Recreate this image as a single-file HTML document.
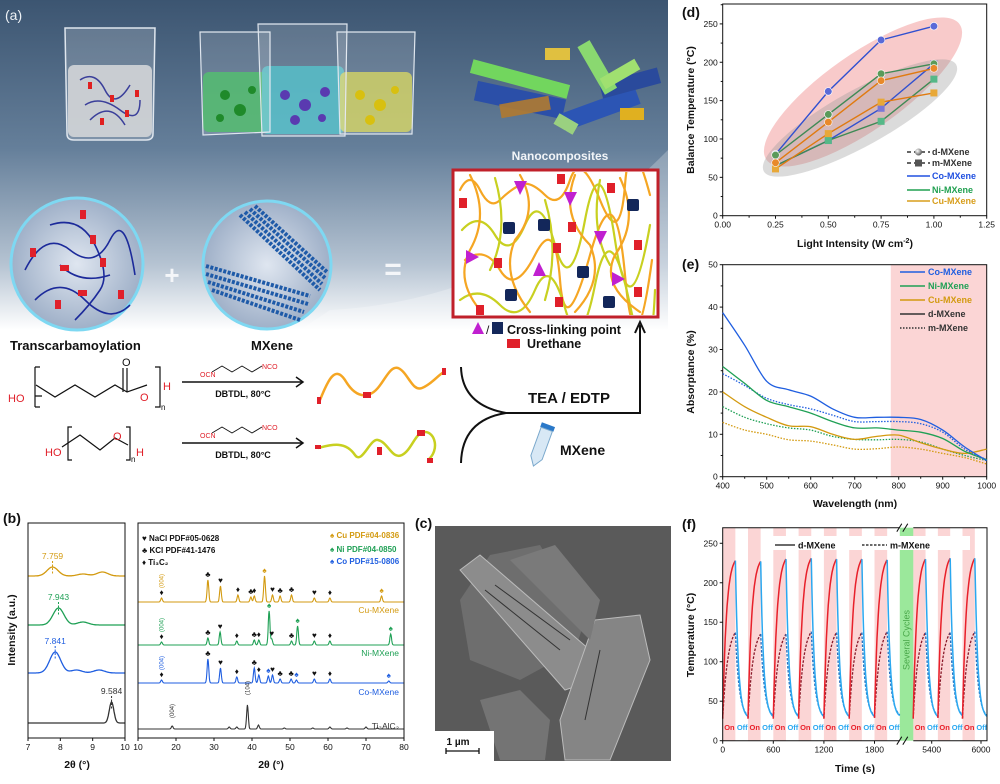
<!DOCTYPE html>
<html><head><meta charset="utf-8">
<style>
body{margin:0;width:1000px;height:779px;overflow:hidden;background:#fff}
svg text{font-family:"Liberation Sans",Arial,sans-serif}
</style></head>
<body>
<svg id="fig" width="1000" height="779" viewBox="0 0 1000 779" xmlns="http://www.w3.org/2000/svg">
<defs>
<linearGradient id="bgA" x1="0" y1="0" x2="0" y2="1">
<stop offset="0" stop-color="#3c5571"/><stop offset="0.45" stop-color="#657f9a"/><stop offset="0.8" stop-color="#b5c3d2"/><stop offset="1" stop-color="#ffffff"/>
</linearGradient>
<radialGradient id="circG" cx="0.5" cy="0.5" r="0.5"><stop offset="0" stop-color="#dfe6f0"/><stop offset="1" stop-color="#9fb0c8"/></radialGradient>
<radialGradient id="ballG" cx="0.35" cy="0.35" r="0.7"><stop offset="0" stop-color="#fff"/><stop offset="1" stop-color="#555"/></radialGradient>
<clipPath id="boxClip"><rect x="455" y="172" width="201" height="143"/></clipPath>
</defs>

<!-- PANEL A -->
<g>
<rect x="0" y="0" width="668" height="330" fill="url(#bgA)"/>
<path d="M330 310 Q520 300 668 150 L668 330 L300 330 Z" fill="#ffffff" opacity="0.25"/>
<text x="5" y="20" font-size="14" fill="#eef2f6">(a)</text>
<g>
<rect x="68" y="65" width="84" height="72" rx="6" fill="#c9cccf" opacity="0.9"/>
<path d="M65 28 L155 28 L153 134 Q153 140 146 140 L74 140 Q67 140 67 134 Z" fill="#ffffff" fill-opacity="0.18" stroke="#dfe6ee" stroke-width="1.5"/>
<path d="M80 80 Q95 70 105 90 T130 85 M85 105 Q100 95 120 110 T140 100 M90 120 Q110 100 125 125" stroke="#3a3f9a" stroke-width="1.5" fill="none"/>
<g fill="#e02020"><rect x="88" y="82" width="4" height="7"/><rect x="110" y="95" width="4" height="7"/><rect x="125" y="110" width="4" height="7"/><rect x="100" y="118" width="4" height="7"/><rect x="135" y="90" width="4" height="7"/></g>
</g>
<g>
<rect x="203" y="72" width="66" height="60" rx="6" fill="#36b157" opacity="0.85"/>
<rect x="262" y="66" width="82" height="68" rx="6" fill="#3ab4c0" opacity="0.85"/>
<rect x="340" y="72" width="72" height="60" rx="6" fill="#c8c84c" opacity="0.85"/>
<path d="M200 32 L270 32 L270 132 L203 135 Z" fill="#fff" fill-opacity="0.15" stroke="#dfe6ee" stroke-width="1.2"/>
<path d="M258 24 L347 24 L345 136 L262 136 Z" fill="#fff" fill-opacity="0.15" stroke="#dfe6ee" stroke-width="1.2"/>
<path d="M337 32 L415 32 L412 134 L340 134 Z" fill="#fff" fill-opacity="0.15" stroke="#dfe6ee" stroke-width="1.2"/>
<g fill="#1f8a2a"><circle cx="225" cy="95" r="5"/><circle cx="240" cy="110" r="6"/><circle cx="220" cy="118" r="4"/><circle cx="252" cy="90" r="4"/></g>
<g fill="#5a3ab0"><circle cx="285" cy="95" r="5"/><circle cx="305" cy="105" r="6"/><circle cx="325" cy="92" r="5"/><circle cx="295" cy="120" r="5"/><circle cx="322" cy="118" r="4"/></g>
<g fill="#d8c010"><circle cx="360" cy="95" r="5"/><circle cx="380" cy="105" r="6"/><circle cx="395" cy="90" r="4"/><circle cx="370" cy="120" r="5"/></g>
</g>
<g>
<rect x="475" y="90" width="90" height="20" fill="#2b4fa8" transform="rotate(12 520 100)"/>
<rect x="560" y="100" width="80" height="18" fill="#2c55b4" transform="rotate(-20 600 109)"/>
<rect x="600" y="75" width="60" height="16" fill="#2a4a9c" transform="rotate(-15 630 83)"/>
<rect x="470" y="72" width="100" height="14" fill="#72d65e" transform="rotate(15 520 79)"/>
<rect x="570" y="60" width="55" height="14" fill="#8ad870" transform="rotate(60 597 67)"/>
<rect x="600" y="68" width="40" height="12" fill="#a0e070" transform="rotate(-30 620 74)"/>
<rect x="500" y="100" width="50" height="14" fill="#b07a30" opacity="0.9" transform="rotate(-10 525 107)"/>
<rect x="620" y="108" width="24" height="12" fill="#e0b020"/>
<rect x="545" y="48" width="25" height="12" fill="#e0c040"/>
<rect x="555" y="118" width="22" height="12" fill="#9ad080" transform="rotate(30 566 124)"/>
</g>
<text x="560" y="160" font-size="12" font-weight="bold" fill="#f2f5f8" text-anchor="middle">Nanocomposites</text>
<g>
<circle cx="77" cy="264" r="66" fill="url(#circG)" stroke="#7ed8f2" stroke-width="3"/>
<path d="M25 270 Q45 230 70 250 T110 240 T135 275 M35 300 Q60 275 85 300 T130 305 M50 225 Q80 215 95 245 T100 290 T75 320 M60 265 Q80 285 110 275" stroke="#1c2a9a" stroke-width="1.6" fill="none"/>
<g fill="#e0202a"><rect x="80" y="210" width="6" height="9"/><rect x="30" y="248" width="6" height="9"/><rect x="60" y="265" width="9" height="6"/><rect x="100" y="258" width="6" height="9"/><rect x="78" y="290" width="9" height="6"/><rect x="55" y="300" width="6" height="9"/><rect x="118" y="290" width="6" height="9"/><rect x="90" y="235" width="6" height="9"/></g>
</g>
<g>
<circle cx="267" cy="265" r="64" fill="url(#circG)" stroke="#7ed8f2" stroke-width="3"/>
<path d="M240 215 L320 290 M245 212 L322 284 M250 209 L325 278 M255 206 L327 272 M212 290 L300 320 M208 282 L304 312 M206 274 L308 304 M206 266 L310 296" stroke="#1e5aa8" stroke-width="4" stroke-dasharray="3 1.5"/>
</g>
<text x="172" y="284" font-size="26" font-weight="bold" fill="#f4f6f9" text-anchor="middle">+</text>
<text x="393" y="279" font-size="30" font-weight="bold" fill="#f4f6f9" text-anchor="middle">=</text>
<g>
<rect x="453" y="170" width="205" height="147" fill="#fff" stroke="#c0202a" stroke-width="3"/>
<g fill="none" stroke-width="2.2" stroke-linecap="round" clip-path="url(#boxClip)">
<path d="M460 190 Q470 170 480 190 T500 200 T520 185 T545 195 T570 180 T600 200 T625 185 T650 195" stroke="#f5a623"/>
<path d="M462 230 Q480 210 495 235 T525 225 T555 245 T585 220 T615 240 T650 225" stroke="#c8d020"/>
<path d="M465 260 Q485 245 500 270 T535 255 T560 280 T590 255 T625 275 T652 260" stroke="#f5a623"/>
<path d="M460 300 Q480 285 500 305 T535 290 T565 308 T595 285 T630 305 T655 290" stroke="#c8d020"/>
<path d="M470 175 Q490 215 470 250 Q455 280 480 310 M520 175 Q540 210 515 240 Q500 275 530 312 M575 175 Q560 215 590 245 Q605 280 575 312 M620 178 Q640 220 615 255 Q600 285 640 312" stroke="#f5a623"/>
<path d="M495 178 Q510 230 490 270 M600 180 Q590 230 610 265 M545 200 Q560 250 545 300" stroke="#c8d020"/>
</g>
<g fill="#c020d0"><path d="M514 181 L527 181 L520 195 Z"/><path d="M564 192 L577 192 L570 206 Z"/><path d="M594 231 L607 231 L600 245 Z"/><path d="M466 250 L479 257 L466 264 Z"/><path d="M533 276 L546 276 L539 262 Z"/><path d="M612 272 L625 279 L612 286 Z"/></g>
<g fill="#13275a"><rect x="503" y="222" width="12" height="12" rx="2"/><rect x="538" y="219" width="12" height="12" rx="2"/><rect x="627" y="199" width="12" height="12" rx="2"/><rect x="577" y="266" width="12" height="12" rx="2"/><rect x="505" y="289" width="12" height="12" rx="2"/><rect x="603" y="296" width="12" height="12" rx="2"/></g>
<g fill="#e0202a"><rect x="459" y="198" width="8" height="10"/><rect x="557" y="174" width="8" height="10"/><rect x="607" y="183" width="8" height="10"/><rect x="568" y="222" width="8" height="10"/><rect x="553" y="243" width="8" height="10"/><rect x="494" y="258" width="8" height="10"/><rect x="634" y="240" width="8" height="10"/><rect x="555" y="297" width="8" height="10"/><rect x="634" y="287" width="8" height="10"/><rect x="476" y="305" width="8" height="10"/></g>
</g>
<g>
<path d="M472 334 L484 334 L478 322 Z" fill="#c020d0"/>
<text x="486" y="334" font-size="12" fill="#111">/</text>
<rect x="492" y="322" width="11" height="12" fill="#13275a"/>
<text x="507" y="334" font-size="12.5" font-weight="bold" fill="#111">Cross-linking point</text>
<rect x="507" y="339" width="13" height="9" fill="#e0202a"/>
<text x="527" y="348" font-size="12.5" font-weight="bold" fill="#111">Urethane</text>
</g>
<text x="10" y="350" font-size="13" font-weight="bold" fill="#111">Transcarbamoylation</text>
<text x="272" y="350" font-size="13" font-weight="bold" fill="#111" text-anchor="middle">MXene</text>
<g fill="none" stroke="#111" stroke-width="1.2">
<path d="M35 395 L35 367 M35 395 L35 407 M35 396 L42 396"/>
<path d="M36 385 L55 397 L75 385 L95 397 L115 385 L127 392 L147 385"/>
<path d="M127 392 L127 368 M123 392 L123 368"/>
<path d="M155 367 L160 367 L160 407 L155 407"/>
<path d="M35 367 L40 367 M35 407 L40 407"/>
</g>
<text x="8" y="402" font-size="11" fill="#e0202a">HO</text>
<text x="122" y="366" font-size="11" fill="#111">O</text>
<text x="140" y="401" font-size="11" fill="#e0202a">O</text>
<text x="163" y="390" font-size="11" fill="#e0202a">H</text>
<text x="161" y="410" font-size="8" fill="#111">n</text>
<g fill="none" stroke="#111" stroke-width="1.2">
<path d="M72 427 L68 427 L68 460 L72 460 M126 427 L130 427 L130 460 L126 460"/>
<path d="M62 447 L80 435 L100 450 L115 438 L128 445"/>
</g>
<text x="45" y="456" font-size="11" fill="#e0202a">HO</text>
<text x="113" y="440" font-size="11" fill="#e0202a">O</text>
<text x="136" y="456" font-size="11" fill="#e0202a">H</text>
<text x="131" y="462" font-size="8" fill="#111">n</text>
<g>
<path d="M182 382 L302 382 M296 377 L303 382 L296 387" stroke="#111" stroke-width="1.5" fill="none"/>
<path d="M182 443 L302 443 M296 438 L303 443 L296 448" stroke="#111" stroke-width="1.5" fill="none"/>
<path d="M212 372 L222 366 L232 372 L242 366 L252 372 L262 366" stroke="#111" stroke-width="0.9" fill="none"/>
<path d="M212 433 L222 427 L232 433 L242 427 L252 433 L262 427" stroke="#111" stroke-width="0.9" fill="none"/>
<text x="200" y="377" font-size="7" fill="#e0202a">OCN</text><text x="262" y="369" font-size="7" fill="#e0202a">NCO</text>
<text x="200" y="438" font-size="7" fill="#e0202a">OCN</text><text x="262" y="430" font-size="7" fill="#e0202a">NCO</text>
<text x="243" y="397" font-size="9" font-weight="bold" fill="#111" text-anchor="middle">DBTDL, 80°C</text>
<text x="243" y="458" font-size="9" font-weight="bold" fill="#111" text-anchor="middle">DBTDL, 80°C</text>
</g>
<path d="M320 400 C328 380 335 365 345 380 C352 392 360 398 370 394 C382 390 388 365 398 368 C408 372 412 392 422 388 C432 384 438 375 444 372" stroke="#f5a623" stroke-width="2.5" fill="none"/>
<path d="M318 448 C330 445 345 440 355 455 C362 465 370 438 378 440 C388 442 392 460 402 455 C412 450 415 432 425 432 C435 432 440 450 428 460" stroke="#c8d020" stroke-width="2.5" fill="none"/>
<g fill="#e0202a"><rect x="317" y="397" width="4" height="7"/><rect x="363" y="392" width="8" height="6"/><rect x="442" y="368" width="4" height="7"/><rect x="315" y="445" width="6" height="4"/><rect x="377" y="447" width="5" height="8"/><rect x="417" y="430" width="8" height="6"/><rect x="427" y="458" width="6" height="5"/></g>
<path d="M461 367 Q462 405 506 413 L640 413 L640 325 M635 333 L640 322 L645 333" stroke="#111" stroke-width="2" fill="none"/>
<path d="M506 413 Q462 420 461 463" stroke="#111" stroke-width="2" fill="none"/>
<text x="528" y="403" font-size="15" font-weight="bold" fill="#111">TEA / EDTP</text>
<g transform="rotate(20 540 445)">
<rect x="534" y="423" width="14" height="5" fill="#2a78c8"/>
<path d="M535 428 L547 428 L547 458 L541 467 L535 458 Z" fill="#d8e8f5" stroke="#7aa8cc"/>
</g>
<text x="560" y="455" font-size="14" font-weight="bold" fill="#111">MXene</text>
</g>

<!-- PANEL C -->
<g>
<text x="415" y="528" font-size="14" font-weight="bold" fill="#111">(c)</text>
<rect x="435" y="526" width="236" height="235" fill="#5a5a5a"/>
<g>
<path d="M460 600 L490 555 L540 545 L585 620 L575 650 L520 680 L470 660 Z" fill="#6e6e6e"/>
<path d="M460 570 L480 555 L590 650 L580 685 L565 690 Z" fill="#8c8c8c" stroke="#bbb" stroke-width="1"/>
<path d="M595 620 L640 615 L650 660 L610 760 L565 760 L560 720 Z" fill="#858585" stroke="#bbb" stroke-width="1"/>
<path d="M480 700 L520 690 L550 720 L545 760 L500 760 Z" fill="#747474"/>
<path d="M510 560 L555 545 L600 600 L590 640 Z" fill="#7a7a7a"/>
<path d="M485 590 L560 650 M495 585 L570 640 M600 650 L585 720" stroke="#333" stroke-width="1"/>
</g>
<rect x="435" y="731" width="59" height="31" fill="#fff"/>
<text x="458" y="745" font-size="10" font-weight="bold" fill="#111" text-anchor="middle">1 µm</text>
<path d="M446 751 L479 751 M446 748 L446 754 M479 748 L479 754" stroke="#111" stroke-width="1.3"/>
</g>

<g id="panelB"></g>
<g id="panelD"></g>
<g id="panelE"></g>
<g id="panelF"></g>
</svg>

<script>
// ---------- DATA ----------
// Panel d
const dIntensity=[0.25,0.5,0.75,1.0];
const dCoD=[80,162,229,247];
const dNiD=[79,132,185,198];
const dCuD=[69,122,176,192];
const dCoM=[65,98,140,198];
const dNiM=[65,98,123,178];
const dCuM=[61,107,148,160];
const dXTicks=[0,0.25,0.5,0.75,1.0,1.25];
const dXTickLabels=["0.00","0.25","0.50","0.75","1.00","1.25"];
const dYTicks=[0,50,100,150,200,250];
// Panel e
const eWave=[400,450,500,550,600,650,700,750,800,850,900,950,1000];
const eCoD=[38.7,31,22.5,20.5,19,16,14,14,14,13.5,11,7,3.8];
const eNiD=[26,22,18,16.5,15,13,11.5,11.5,11,10.5,9,6,4];
const eCuD=[20,16.5,14,12,11.8,10,8.8,9.5,9.8,8,6.5,5.5,6.5];
const eCoM=[24.3,21.5,18.5,17,16,14.5,13,13,13,12.5,10.5,6.5,4];
const eNiM=[16.5,14,12.5,11.5,11,9.5,8.8,8.7,8.8,8.2,6.5,5,3.8];
const eCuM=[12.8,11,10,8.7,8.4,7.5,6.5,6.6,7,6.5,5.5,4.5,3];
const eXTicks=[400,500,600,700,800,900,1000];
const eYTicks=[0,10,20,30,40,50];
const eNirStart=782;
// Panel f
const fCycleStart=[0,300,600,900,1200,1500,1800,5175,5475,5775];
const fPeakD=[228,227,230,231,230,230,229,230,231,231];
const fPeakM=[137,135,135,138,137,137,138,137,137,138];
const fMinT=[28,28,28,28,28,28,29,28,29,28];
const fOnDur=150;
const fPeriod=300;
const fXTicks=[0,600,1200,1800,5400,6000];
const fYTicks=[0,50,100,150,200,250];
// Panel b
const bLCuPos=[7.759,8.7,9.3], bLCuH=[9,2,4];
const bLNiPos=[7.943,8.7], bLNiH=[17,3];
const bLCoPos=[7.841,8.5,9.2], bLCoH=[21,3,3];
const bLTiPos=[9.584], bLTiH=[21];
const bLPeakLabels=["7.759","7.943","7.841","9.584"];
const bCuPos=[16.2,28.4,31.7,36.3,39.7,40.6,43.3,45.4,47.4,50.4,56.4,60.5,74.1];
const bCuH=[4,22,16,7,5,6,26,7,6,7,4,4,6];
const bCuSym=["♦","♣","♥","♦","♣","♦","♠","♥","♣","♣","♥","♦","♠"];
const bNiPos=[16.2,28.4,31.6,36,40.6,41.8,44.5,45.2,50.4,52,56.4,60.5,76.5];
const bNiH=[3,7,13,4,5,5,34,6,4,19,4,4,11];
const bNiSym=["♦","♣","♥","♦","♣","♦","♠","♥","♣","♠","♥","♦","♠"];
const bCoPos=[16.2,28.4,31.7,36,40.6,41.8,44.3,45.4,47.4,50.3,51.7,56.4,60.5,76];
const bCoH=[3,24,15,6,15,8,7,8,4,4,3,4,4,2];
const bCoSym=["♦","♣","♥","♦","♣","♦","♠","♥","♣","♣","♠","♥","♦","♠"];
const bTiPos=[19,34,36,38.8,41.7,48.5,56,60.5,65,70,73];
const bTiH=[3,2,2,24,4,1,1,2,1,2,1];
const bLXTicks=[7,8,9,10];
const bRXTicks=[10,20,30,40,50,60,70,80];

// ---------- HELPERS ----------
const NS="http://www.w3.org/2000/svg";
function mk(p,tag,a){const e=document.createElementNS(NS,tag);for(const k in a)e.setAttribute(k,a[k]);p.appendChild(e);return e;}
function txt(p,x,y,s,a){const e=mk(p,'text',Object.assign({x:x,y:y},a));e.textContent=s;return e;}
function smooth(pts){let d='M'+pts[0][0].toFixed(1)+' '+pts[0][1].toFixed(1);
 for(let i=0;i<pts.length-1;i++){const p0=pts[i-1]||pts[i],p1=pts[i],p2=pts[i+1],p3=pts[i+2]||p2;
 const c1=[p1[0]+(p2[0]-p0[0])/6,p1[1]+(p2[1]-p0[1])/6],c2=[p2[0]-(p3[0]-p1[0])/6,p2[1]-(p3[1]-p1[1])/6];
 d+=' C'+c1[0].toFixed(1)+' '+c1[1].toFixed(1)+' '+c2[0].toFixed(1)+' '+c2[1].toFixed(1)+' '+p2[0].toFixed(1)+' '+p2[1].toFixed(1);}return d;}
function poly(pts){return 'M'+pts.map(p=>p[0].toFixed(1)+' '+p[1].toFixed(1)).join(' L');}

// ---------- PANEL D ----------
(function(){
const g=document.getElementById('panelD');
const X0=722.7,X1=986.7,Y0=215.7,YT=4;
const xd=v=>X0+v/1.25*(X1-X0), yd=v=>Y0-v*0.7672;
const lab=txt(g,682,17,'(d)',{'font-size':14,'font-weight':'bold',fill:'#111'});


const e1=mk(g,'ellipse',{cx:863,cy:92,rx:118,ry:38,fill:'#f08a8a','fill-opacity':0.45,transform:'rotate(-35 863 92)'});


const e2=mk(g,'ellipse',{cx:860,cy:118,rx:110,ry:28,fill:'#999','fill-opacity':0.35,transform:'rotate(-29 860 118)'});


const fr=mk(g,'rect',{x:X0,y:YT,width:X1-X0,height:Y0-YT,fill:'none',stroke:'#111','stroke-width':1});


dXTicks.forEach((v,i)=>{const t=mk(g,'line',{x1:xd(v),x2:xd(v),y1:Y0,y2:Y0+3,stroke:'#111'});
 
 
 if(i<dXTicks.length-1){const m=mk(g,'line',{x1:xd(v+0.125),x2:xd(v+0.125),y1:Y0,y2:Y0+2,stroke:'#111'});
 
 }
 const l=txt(g,xd(v),Y0+12,dXTickLabels[i],{'font-size':8.5,'text-anchor':'middle',fill:'#111'});
 
 });
dYTicks.forEach(v=>{const t=mk(g,'line',{x1:X0-3,x2:X0,y1:yd(v),y2:yd(v),stroke:'#111'});
 
 
 const m=mk(g,'line',{x1:X0-2,x2:X0,y1:yd(v+25),y2:yd(v+25),stroke:'#111'});
 
 
 const l=txt(g,X0-5,yd(v)+3,String(v),{'font-size':8.5,'text-anchor':'end',fill:'#111'});
 
 });
const xt=txt(g,855,247,'Light Intensity (W cm',{'font-size':10.5,'font-weight':'bold','text-anchor':'middle',fill:'#111'});
const sup=mk(xt,'tspan',{dy:-4,'font-size':7});sup.textContent='-2';
const cl=mk(xt,'tspan',{dy:4});cl.textContent=')';


const yt=txt(g,0,0,'Balance Temperature (°C)',{'font-size':10.5,'font-weight':'bold','text-anchor':'middle',fill:'#111',transform:'translate(694 110) rotate(-90)'});


const series=[[dCoM,'#3050d0','#7a78d8','sq','co-m'],[dNiM,'#3f8a55','#55b888','sq','ni-m'],[dCuM,'#e07a10','#e8a838','sq','cu-m'],
 [dCoD,'#3050d0','#5a6ad8','c','co-d'],[dNiD,'#3f8a55','#5a9a5a','c','ni-d'],[dCuD,'#e07a10','#e8892a','c','cu-d']];
series.forEach(s=>{const pts=dIntensity.map((x,i)=>[xd(x),yd(s[0][i])]);
 const p=mk(g,'path',{d:poly(pts),fill:'none',stroke:s[1],'stroke-width':1.4});
 
 
 pts.forEach(pt=>{let m;
  if(s[3]==='sq')m=mk(g,'rect',{x:pt[0]-3.5,y:pt[1]-3.5,width:7,height:7,fill:s[2]});
  else m=mk(g,'circle',{cx:pt[0],cy:pt[1],r:3.8,fill:s[2],stroke:'#fff','stroke-width':0.6});
  
  });});
const leg=[[155,'#333','d-MXene','c'],[166,'#333','m-MXene','s'],[179,'#2050e0','Co-MXene',''],[193,'#20a050','Ni-MXene',''],[204,'#d89e1c','Cu-MXene','']];
leg.forEach(l=>{const ln=mk(g,'line',{x1:907,x2:930,y1:l[0]-3,y2:l[0]-3,stroke:l[3]?'#333':l[1],'stroke-width':1.4,'stroke-dasharray':l[3]?'4 3':'none'});
 
 
 if(l[3]==='c'){const c=mk(g,'circle',{cx:918.5,cy:l[0]-3,r:3.5,fill:'url(#ballG)'});}
 if(l[3]==='s'){const c=mk(g,'rect',{x:915,y:l[0]-6.5,width:7,height:7,fill:'#555'});}
 const t=txt(g,932,l[0],l[2],{'font-size':9,'font-weight':'bold',fill:l[1]});
 
 });
})();

// ---------- PANEL E ----------
(function(){
const g=document.getElementById('panelE');
const X0=722.7,X1=986.7,Y0=476.7,YT=264.7;
const xe=w=>X0+(w-400)/600*(X1-X0), ye=v=>Y0-v*4.24;
const lab=txt(g,682,269,'(e)',{'font-size':14,'font-weight':'bold',fill:'#111'});


const nir=mk(g,'rect',{x:xe(eNirStart),y:YT,width:X1-xe(eNirStart),height:Y0-YT,fill:'#fbd5d5'});


const fr=mk(g,'rect',{x:X0,y:YT,width:X1-X0,height:Y0-YT,fill:'none',stroke:'#111','stroke-width':1});


eXTicks.forEach((v,i)=>{const t=mk(g,'line',{x1:xe(v),x2:xe(v),y1:Y0,y2:Y0+3,stroke:'#111'});
 
 
 if(i<eXTicks.length-1){const m=mk(g,'line',{x1:xe(v+50),x2:xe(v+50),y1:Y0,y2:Y0+2,stroke:'#111'});
 
 }
 const l=txt(g,xe(v),Y0+12,String(v),{'font-size':8.5,'text-anchor':'middle',fill:'#111'});
 
 });
eYTicks.forEach((v,i)=>{const t=mk(g,'line',{x1:X0-3,x2:X0,y1:ye(v),y2:ye(v),stroke:'#111'});
 
 
 if(i<eYTicks.length-1){const m=mk(g,'line',{x1:X0-2,x2:X0,y1:ye(v+5),y2:ye(v+5),stroke:'#111'});
 
 }
 const l=txt(g,X0-5,ye(v)+3,String(v),{'font-size':8.5,'text-anchor':'end',fill:'#111'});
 
 });
const xt=txt(g,855,507,'Wavelength (nm)',{'font-size':10.5,'font-weight':'bold','text-anchor':'middle',fill:'#111'});


const yt=txt(g,0,0,'Absorptance (%)',{'font-size':10.5,'font-weight':'bold','text-anchor':'middle',fill:'#111',transform:'translate(694 372) rotate(-90)'});


const ser=[[eCuM,'#d39a10',1,'cu-m'],[eNiM,'#1fa055',1,'ni-m'],[eCoM,'#1f5ee0',1,'co-m'],[eCuD,'#d39a10',0,'cu-d'],[eNiD,'#1fa055',0,'ni-d'],[eCoD,'#1f5ee0',0,'co-d']];
ser.forEach(s=>{const p=mk(g,'path',{d:smooth(eWave.map((w,i)=>[xe(w),ye(s[0][i])])),fill:'none',stroke:s[1],'stroke-width':1.3,'stroke-dasharray':s[2]?'1.5 1.5':'none'});
 
 });
const leg=[[275,'#1f5ee0','Co-MXene',0,'#1f5ee0'],[289,'#1fa055','Ni-MXene',0,'#1fa055'],[303,'#d39a10','Cu-MXene',0,'#d39a10'],[317,'#333','d-MXene',0,'#333'],[331,'#333','m-MXene',1,'#333']];
leg.forEach(l=>{const ln=mk(g,'line',{x1:900,x2:925,y1:l[0]-3,y2:l[0]-3,stroke:l[4],'stroke-width':1.4,'stroke-dasharray':l[3]?'1.5 1.5':'none'});
 
 
 const t=txt(g,928,l[0],l[2],{'font-size':9,'font-weight':'bold',fill:l[1]});
 
 });
})();

// ---------- PANEL F ----------
(function(){
const g=document.getElementById('panelF');
const X0=722.7,X1=987,Y0=740.7,YT=527.7;
const BRK0=899.8,BRK1=913.3;
const xf=t=>t<=2100?X0+t/600*50.6:931.7+(t-5400)/600*49.3;
const yf=v=>Y0-v*0.7897;
const lab=txt(g,682,529,'(f)',{'font-size':14,'font-weight':'bold',fill:'#111'});


fCycleStart.forEach(t0=>{const b=mk(g,'rect',{x:xf(t0),y:YT,width:xf(t0+fOnDur)-xf(t0),height:Y0-YT,fill:'#fbd5d5'});
 
 });
const gb=mk(g,'rect',{x:BRK0,y:YT,width:BRK1-BRK0,height:Y0-YT,fill:'#9be89b'});


const sc=txt(g,0,0,'Several Cycles',{'font-size':9,fill:'#4aa84a','text-anchor':'middle',transform:'translate('+((BRK0+BRK1)/2+3)+' 640) rotate(-90)'});


const lg=mk(g,'rect',{x:770,y:536,width:200,height:14,fill:'#fff'});


function curve(t0,peak,min,heat,tau){const pts=[];
 for(let k=0;k<=20;k++){const s=k/20*(heat?fOnDur:fPeriod-fOnDur);let v;
  if(heat)v=min+(peak-min)*(1-Math.exp(-s/tau))/(1-Math.exp(-fOnDur/tau));
  else v=min+(peak-min)*Math.exp(-s/tau);
  pts.push([xf(t0+(heat?0:fOnDur)+s),yf(v)]);}return pts;}
fCycleStart.forEach((t0,i)=>{
 const a=mk(g,'path',{d:poly(curve(t0,fPeakM[i],fMinT[i],true,60)),fill:'none',stroke:'#8a1a2a','stroke-width':1.3,'stroke-dasharray':'2.5 1.5'});
 
 
 const b=mk(g,'path',{d:poly(curve(t0,fPeakM[i],fMinT[i],false,45)),fill:'none',stroke:'#2a70c0','stroke-width':1.3,'stroke-dasharray':'2.5 1.5'});
 
 
 const c=mk(g,'path',{d:poly(curve(t0,fPeakD[i],fMinT[i],true,45)),fill:'none',stroke:'#e8202a','stroke-width':1.5});
 
 
 const d=mk(g,'path',{d:poly(curve(t0,fPeakD[i],fMinT[i],false,35)),fill:'none',stroke:'#2aa8f0','stroke-width':1.5});
 
 
 const on=txt(g,xf(t0)+1.5,730,'On',{'font-size':7.5,'font-weight':'bold',fill:'#e8202a'});
 
 
 const off=txt(g,xf(t0+fOnDur)+1.5,730,'Off',{'font-size':7.5,'font-weight':'bold',fill:'#2aa8f0'});
 
 });
const fr=mk(g,'path',{d:'M'+BRK0+' '+YT+' L'+X0+' '+YT+' L'+X0+' '+Y0+' L'+BRK0+' '+Y0+' M'+BRK1+' '+Y0+' L'+X1+' '+Y0+' L'+X1+' '+YT+' L'+BRK1+' '+YT,fill:'none',stroke:'#111','stroke-width':1});


[Y0,YT].forEach(yy=>{const br=mk(g,'path',{d:'M'+(BRK0-3)+' '+(yy+4)+' L'+(BRK0+2)+' '+(yy-4)+' M'+(BRK0+3)+' '+(yy+4)+' L'+(BRK0+8)+' '+(yy-4),stroke:'#111','stroke-width':1});
 
 });
fXTicks.forEach(v=>{const t=mk(g,'line',{x1:xf(v),x2:xf(v),y1:Y0,y2:Y0+3,stroke:'#111'});
 
 
 const l=txt(g,xf(v),Y0+12,String(v),{'font-size':8.5,'text-anchor':'middle',fill:'#111'});
 
 });
fYTicks.forEach(v=>{const t=mk(g,'line',{x1:X0-3,x2:X0,y1:yf(v),y2:yf(v),stroke:'#111'});
 
 
 const l=txt(g,X0-5,yf(v)+3,String(v),{'font-size':8.5,'text-anchor':'end',fill:'#111'});
 
 });
const xt=txt(g,855,772,'Time (s)',{'font-size':10.5,'font-weight':'bold','text-anchor':'middle',fill:'#111'});


const yt=txt(g,0,0,'Temperature (°C)',{'font-size':10.5,'font-weight':'bold','text-anchor':'middle',fill:'#111',transform:'translate(694 635) rotate(-90)'});


const l1=mk(g,'line',{x1:775,x2:795,y1:545,y2:545,stroke:'#111','stroke-width':1.3});


const t1=txt(g,798,548.5,'d-MXene',{'font-size':9,'font-weight':'bold',fill:'#111'});


const l2=mk(g,'line',{x1:862,x2:887,y1:545,y2:545,stroke:'#111','stroke-width':1.3,'stroke-dasharray':'2.5 1.5'});


const t2=txt(g,890,548.5,'m-MXene',{'font-size':9,'font-weight':'bold',fill:'#111'});


})();

// ---------- PANEL B ----------
(function(){
const g=document.getElementById('panelB');
const LX0=28,LX1=125,RX0=138,RX1=404,Y0=738,YT=523;
const xl=v=>LX0+(v-7)/3*(LX1-LX0), xr=v=>RX0+(v-10)/70*(RX1-RX0);
const lab=txt(g,3,523,'(b)',{'font-size':14,'font-weight':'bold',fill:'#111'});


function spec(pos,h,w,base,x0,x1,xs,step){const pts=[];
 for(let v=x0;v<=x1+1e-9;v+=step){let s=0;pos.forEach((p,i)=>{s+=h[i]*Math.exp(-Math.pow((v-p)/w,2)/2);});pts.push([xs(v),base-s]);}return pts;}
const cols={cu:'#d39a10',ni:'#1fa055',co:'#1f5ee0',ti:'#333'};
const left=[[bLCuPos,bLCuH,576,'cu',0.17],[bLNiPos,bLNiH,625,'ni',0.17],[bLCoPos,bLCoH,673,'co',0.17],[bLTiPos,bLTiH,723,'ti',0.07]];
left.forEach((s,k)=>{const p=mk(g,'path',{d:poly(spec(s[0],s[1],s[4],s[2],7,10,xl,0.02)),fill:'none',stroke:cols[s[3]],'stroke-width':1.3});
 
 
 const px=xl(s[0][0]),top=s[2]-s[1][0];
 const dl=mk(g,'line',{x1:px,x2:px,y1:top-6,y2:top+8,stroke:cols[s[3]],'stroke-dasharray':'2 1.5'});
 
 
 const t=txt(g,px,top-8,bLPeakLabels[k],{'font-size':8.5,'text-anchor':'middle',fill:cols[s[3]]});
 
 });
const fl=mk(g,'rect',{x:LX0,y:YT,width:LX1-LX0,height:Y0-YT,fill:'none',stroke:'#111'});


bLXTicks.forEach(v=>{const t=mk(g,'line',{x1:xl(v),x2:xl(v),y1:Y0,y2:Y0+3,stroke:'#111'});
 
 
 const l=txt(g,xl(v),Y0+12,String(v),{'font-size':8.5,'text-anchor':'middle',fill:'#111'});
 
 });
const right=[[bCuPos,bCuH,602,'cu',bCuSym],[bNiPos,bNiH,645,'ni',bNiSym],[bCoPos,bCoH,683,'co',bCoSym],[bTiPos,bTiH,729,'ti',null]];
right.forEach(s=>{const p=mk(g,'path',{d:poly(spec(s[0],s[1],0.22,s[2],10,80,xr,0.1)),fill:'none',stroke:cols[s[3]],'stroke-width':1.1});
 
 
 if(s[4])s[0].forEach((pos,i)=>{const sym=s[4][i];const t=txt(g,xr(pos),s[2]-s[1][i]-3,sym,{'font-size':8,'text-anchor':'middle',fill:sym==='♠'?cols[s[3]]:'#111'});
  
  });});
const fr=mk(g,'rect',{x:RX0,y:YT,width:RX1-RX0,height:Y0-YT,fill:'none',stroke:'#111'});


bRXTicks.forEach(v=>{const t=mk(g,'line',{x1:xr(v),x2:xr(v),y1:Y0,y2:Y0+3,stroke:'#111'});
 
 
 const l=txt(g,xr(v),Y0+12,String(v),{'font-size':8.5,'text-anchor':'middle',fill:'#111'});
 
 });
[[77,'2θ (°)'],[271,'2θ (°)']].forEach(a=>{const t=txt(g,a[0],768,a[1],{'font-size':10.5,'font-weight':'bold','text-anchor':'middle',fill:'#111','font-family':'Liberation Serif'});
 
 });
const yt=txt(g,0,0,'Intensity (a.u.)',{'font-size':10.5,'font-weight':'bold','text-anchor':'middle',fill:'#111',transform:'translate(15 630) rotate(-90)'});


const lg=[[142,541,'♥ NaCl PDF#05-0628','#111'],[142,553,'♣ KCl PDF#41-1476','#111'],[142,565,'♦ Ti₃C₂','#111'],[330,538,'♠ Cu PDF#04-0836',cols.cu],[330,552,'♠ Ni  PDF#04-0850',cols.ni],[330,564,'♠ Co PDF#15-0806',cols.co]];
lg.forEach(l=>{const t=txt(g,l[0],l[1],l[2],{'font-size':8,'font-weight':'bold',fill:l[3]});
 
 });
const sl=[[399,613,'Cu-MXene',cols.cu],[399,656,'Ni-MXene',cols.ni],[399,695,'Co-MXene',cols.co],[399,729,'Ti₃AlC₂','#333']];
sl.forEach(l=>{const t=txt(g,l[0],l[1],l[2],{'font-size':8.5,'text-anchor':'end',fill:l[3]});
 
 });
[[xr(16.2),588,'(004)',cols.cu],[xr(16.2),632,'(004)',cols.ni],[xr(16.2),670,'(004)',cols.co],[xr(19),718,'(004)','#333'],[xr(38.8),695,'(104)','#333']].forEach(a=>{
 const t=txt(g,0,0,a[2],{'font-size':6,fill:a[3],transform:'translate('+(a[0]+2)+' '+a[1]+') rotate(-90)'});
 
 });
})();
</script>
</body></html>
